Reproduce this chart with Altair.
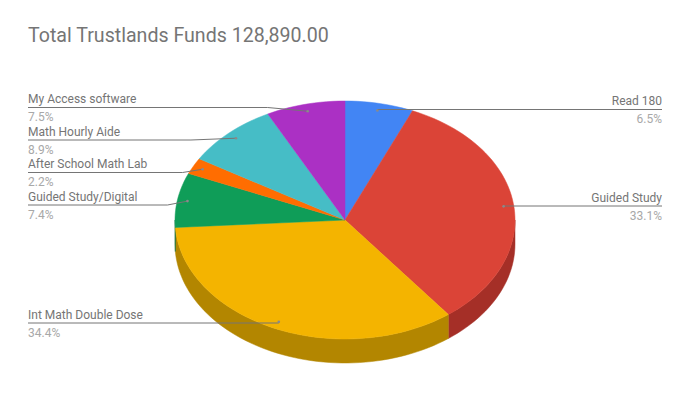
import math
import altair as alt
import pandas as pd

categories = ["Read 180", "Guided Study", "Int Math Double Dose", "Guided Study/Digital",
              "After School Math Lab", "Math Hourly Aide", "My Access  software"]
shares = [6.5, 33.1, 34.4, 7.4, 2.2, 8.9, 7.5]
colors = ["#4285f4", "#db4437", "#f4b400", "#0f9d58", "#ff6d01", "#46bdc6", "#ab30c4"]
side_colors = ["#2e5dab", "#a52f27", "#b38600", "#0b6e3e", "#b34c01", "#31848b", "#78228a"]
title = "Total Trustlands Funds 128,890.00"

# layout of the picture
CX, CY, RX, RY, DEPTH = 345, 220, 170, 119, 24
label_y = [109.5, 206, 323, 205, 172.5, 140, 107.5]
elbow = [0, 0, 0, 20, 20, 45, 40]
LEFT_X, RIGHT_X = 28, 662
W, H = 660, 401


def pt(deg, r=1.0, dy=0.0):
    a = math.radians(deg)
    return CX + RX * r * math.sin(a), CY - RY * r * math.cos(a) + dy


rows, side_rows, leader_rows, dot_rows, text_rows = [], [], [], [], []
start = 0.0
for i, (c, s) in enumerate(zip(categories, shares)):
    a0, a1 = start * 3.6, (start + s) * 3.6
    mid = (a0 + a1) / 2
    n = max(2, int((a1 - a0) / 2) + 1)
    arc = [a0 + (a1 - a0) * k / (n - 1) for k in range(n)]
    poly = [(CX, CY)] + [pt(a) for a in arc]
    for k, (x, y) in enumerate(poly):
        rows.append(dict(slice=c, k=k, x=x, y=y))
    lo, hi = max(a0, 90), min(a1, 270)
    if hi > lo:
        m = max(2, int((hi - lo) / 2) + 1)
        sa = [lo + (hi - lo) * k / (m - 1) for k in range(m)]
        wall = [pt(a) for a in sa] + [pt(a, dy=DEPTH) for a in reversed(sa)]
        for k, (x, y) in enumerate(wall):
            side_rows.append(dict(slice=c, k=k, x=x, y=y))
    dx, dy = pt(mid, 0.94)
    right = mid < 180
    edge = RIGHT_X if right else LEFT_X
    ex = dx + elbow[i] * (1 if right else -1)
    for k, (x, y) in enumerate([(edge, label_y[i]), (ex, label_y[i]), (dx, dy)]):
        leader_rows.append(dict(slice=c, k=k, x=x, y=y))
    dot_rows.append(dict(slice=c, x=dx, y=dy))
    al = "right" if right else "left"
    text_rows.append(dict(t=c, x=edge, y=label_y[i] - 8.5, al=al, kind="name"))
    text_rows.append(dict(t=f"{s}%", x=edge, y=label_y[i] + 9.5, al=al, kind="pct"))
    start += s

xs = alt.Scale(domain=[8, 8 + W], range=[0, W], nice=False, zero=False)
ys = alt.Scale(domain=[8, 8 + H], range=[0, H], nice=False, zero=False)
X = alt.X("x:Q", scale=xs, axis=None)
Y = alt.Y("y:Q", scale=ys, axis=None)
fill_top = alt.Fill("slice:N", scale=alt.Scale(domain=categories, range=colors), legend=None)
fill_side = alt.Fill("slice:N", scale=alt.Scale(domain=categories, range=side_colors), legend=None)
stroke_top = alt.Stroke("slice:N", scale=alt.Scale(domain=categories, range=colors), legend=None)
stroke_side = alt.Stroke("slice:N", scale=alt.Scale(domain=categories, range=side_colors), legend=None)

side = alt.Chart(pd.DataFrame(side_rows)).mark_line(interpolate="linear-closed", strokeWidth=0.5).encode(
    x=X, y=Y, order="k:Q", fill=fill_side, stroke=stroke_side, detail="slice:N")
top = alt.Chart(pd.DataFrame(rows)).mark_line(interpolate="linear-closed", strokeWidth=0.5).encode(
    x=X, y=Y, order="k:Q", fill=fill_top, stroke=stroke_top, detail="slice:N")
leaders = alt.Chart(pd.DataFrame(leader_rows)).mark_line(color="#757575", strokeWidth=1).encode(
    x=X, y=Y, order="k:Q", detail="slice:N")
dots = alt.Chart(pd.DataFrame(dot_rows)).mark_point(filled=True, color="#8a8a8a", size=7, opacity=1).encode(x=X, y=Y)
tdf = pd.DataFrame(text_rows)


def text_layer(kind, color, al):
    return alt.Chart(tdf[(tdf.kind == kind) & (tdf.al == al)]).mark_text(
        font="Roboto", fontSize=12, color=color, align=al, baseline="middle"
    ).encode(x=X, y=Y, text="t:N")


layers = [side, top, leaders, dots]
for al in ("left", "right"):
    layers += [text_layer("name", "#757575", al), text_layer("pct", "#a8a8a8", al)]

chart = alt.layer(*layers).resolve_scale(fill="independent", stroke="independent").properties(
    width=W, height=H, padding=0, autosize=alt.AutoSizeParams(type="none"),
    title=alt.TitleParams(title, anchor="start", frame="group", font="Roboto", fontSize=19.6,
                          fontWeight="normal", color="#757575", dx=20, dy=39, orient="top", offset=0),
).configure_view(stroke=None)

chart.save("out.html", embed_options={"renderer": "svg", "actions": False})
